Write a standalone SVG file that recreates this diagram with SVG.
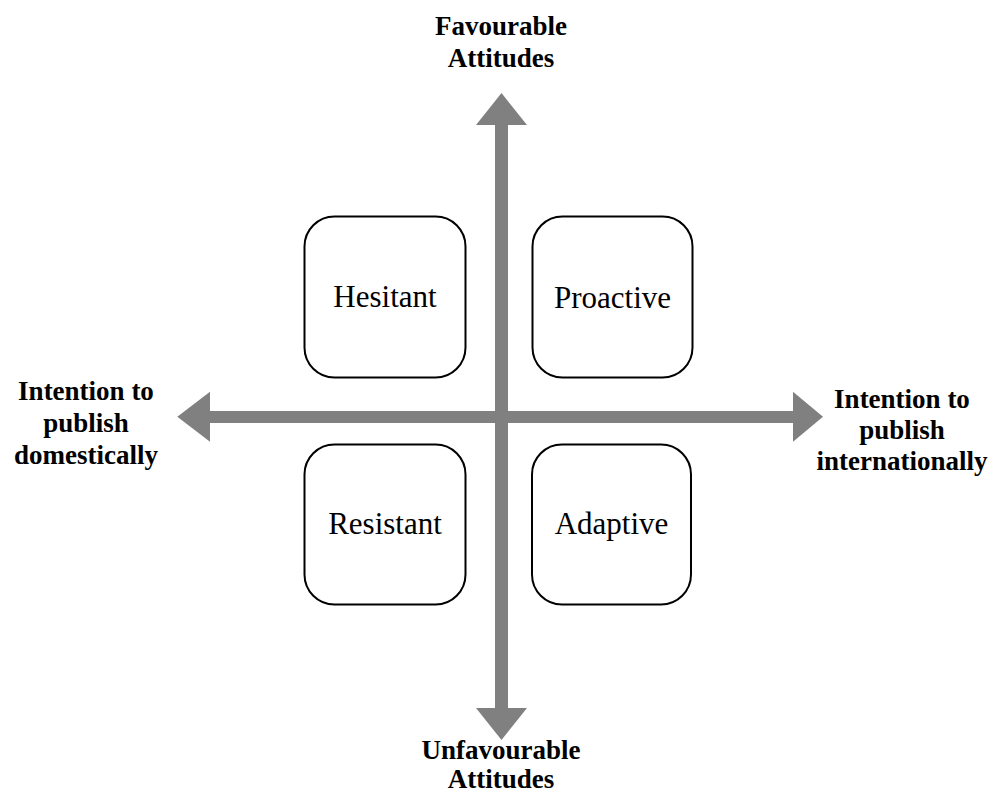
<svg xmlns="http://www.w3.org/2000/svg" width="993" height="794" viewBox="0 0 993 794">
<style>
.box{fill:#fff;stroke:#000;stroke-width:2}
.lbl{font-family:"Liberation Serif",serif;font-size:31px;fill:#000;text-anchor:middle}
.ax{font-family:"Liberation Serif",serif;font-size:27px;font-weight:bold;fill:#000;text-anchor:middle}
.arrow{fill:#808080}
</style>
<rect width="993" height="794" fill="#fff"/>
<g id="connectors">
<polygon class="arrow" points="495,125 476,125 501.5,93 527,125 508,125 508,708 527,708 501.5,740 476,708 495,708"/>
<polygon class="arrow" points="210,411 210,391.7 177.3,416.7 210,441.7 210,423 793,423 793,441.7 823,416.7 793,391.7 793,411"/>
</g>
<g id="hesitant"><rect class="box" x="304.5" y="216.5" width="161" height="161" rx="30"/><text class="lbl" x="385" y="307">Hesitant</text></g>
<g id="proactive"><rect class="box" x="532.5" y="216.5" width="160" height="161" rx="30"/><text class="lbl" x="612.5" y="308">Proactive</text></g>
<g id="resistant"><rect class="box" x="304.5" y="444.5" width="161" height="160" rx="30"/><text class="lbl" x="385" y="534">Resistant</text></g>
<g id="adaptive"><rect class="box" x="532" y="444.5" width="159" height="160" rx="30"/><text class="lbl" x="611.5" y="534">Adaptive</text></g>
<g id="favourable"><text class="ax" x="501" y="35">Favourable</text><text class="ax" x="501" y="67">Attitudes</text></g>
<g id="unfavourable"><text class="ax" x="501" y="759">Unfavourable</text><text class="ax" x="501" y="788">Attitudes</text></g>
<g id="domestic"><text class="ax" x="86" y="400">Intention to</text><text class="ax" x="86" y="432">publish</text><text class="ax" x="86" y="464">domestically</text></g>
<g id="international"><text class="ax" x="902" y="408">Intention to</text><text class="ax" x="902" y="439">publish</text><text class="ax" x="902" y="470">internationally</text></g>
</svg>
